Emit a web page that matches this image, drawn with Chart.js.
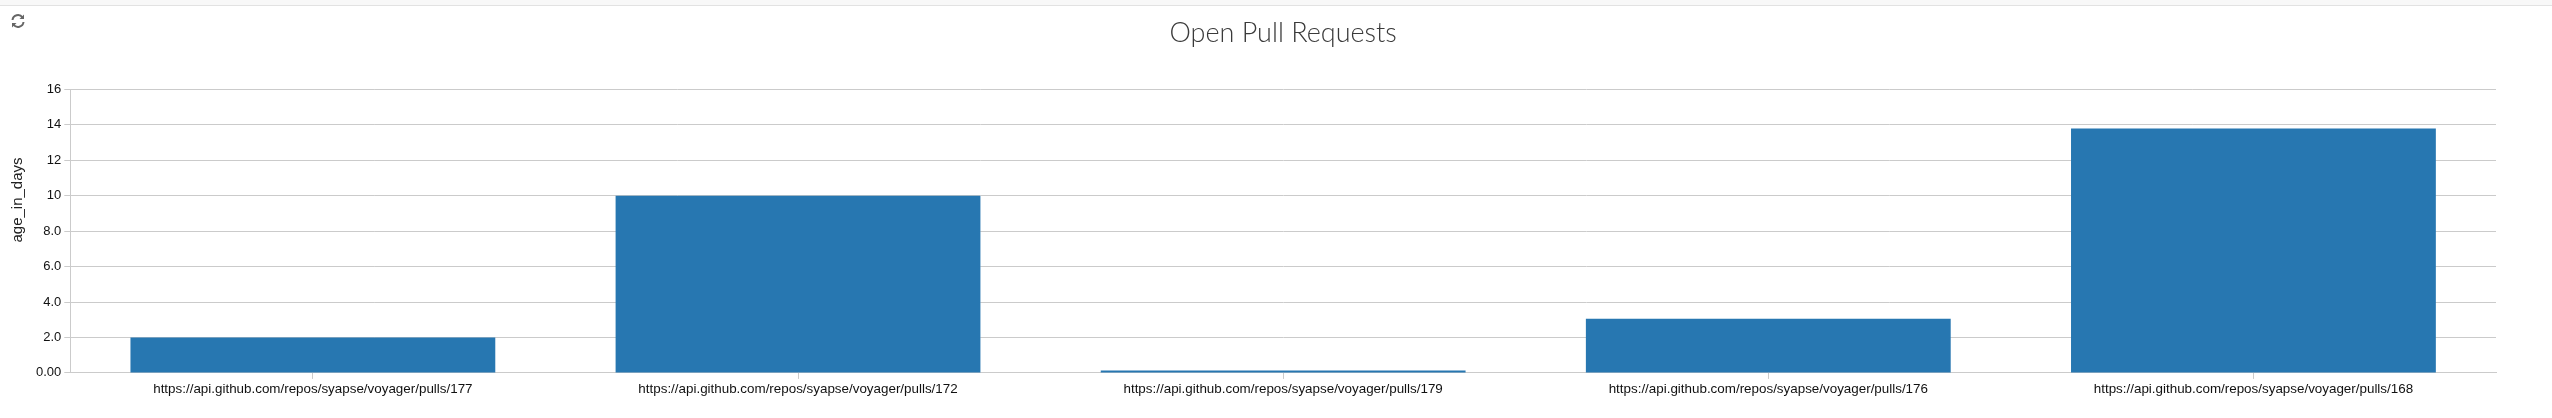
<!DOCTYPE html>
<html>
<head>
    <title>Open Pull Requests</title>
    <script src="https://cdn.jsdelivr.net/npm/chart.js"></script>
    <style>
        html, body {
            margin: 0;
            padding: 0;
            background: #fff;
            overflow: hidden;
        }
        .topbar {
            position: absolute;
            left: 0;
            top: 0;
            width: 100%;
            height: 5px;
            background: #f8f8f8;
            border-bottom: 1px solid #e2e2e2;
        }
        .refresh {
            position: absolute;
            left: 10px;
            top: 13px;
            width: 16px;
            height: 16px;
        }
        canvas {
            position: absolute;
            left: 0;
            top: 0;
        }
    </style>
</head>
<body>
    <canvas id="prChart" width="2552" height="418"></canvas>
    <div class="topbar"></div>
    <svg class="refresh" viewBox="0 0 16 16" fill="none" stroke="#666" stroke-width="2">
        <path d="M2.5 7 A5.5 5.5 0 0 1 12.5 4.5"/>
        <path d="M13.5 9 A5.5 5.5 0 0 1 3.5 11.5"/>
        <path d="M14 1.5 V6 H9.5 Z" fill="#666" stroke="none"/>
        <path d="M2 14.5 V10 H6.5 Z" fill="#666" stroke="none"/>
    </svg>

    <script>
        const categories = [
            "https://api.github.com/repos/syapse/voyager/pulls/177",
            "https://api.github.com/repos/syapse/voyager/pulls/172",
            "https://api.github.com/repos/syapse/voyager/pulls/179",
            "https://api.github.com/repos/syapse/voyager/pulls/176",
            "https://api.github.com/repos/syapse/voyager/pulls/168"
        ];
        const ageInDays = [2.0, 10.0, 0.13, 3.05, 13.8];
        const tickLabels = ["0.00", "2.0", "4.0", "6.0", "8.0", "10", "12", "14", "16"];
        const yAxisName = "age_in_days";

        const gridColor = "#cbcbcb";
        const fontFamily = "'Liberation Sans', Arial, sans-serif";

        // the reference centres the axis name above the middle of the axis,
        // which the built-in scale title can't do
        const yNamePlugin = {
            id: "yName",
            afterDraw(chart) {
                const ctx = chart.ctx;
                ctx.save();
                ctx.translate(18, 200);
                ctx.rotate(-Math.PI / 2);
                ctx.font = "15px " + fontFamily;
                ctx.fillStyle = "#222";
                ctx.textAlign = "center";
                ctx.textBaseline = "middle";
                ctx.fillText(yAxisName, 0, 0);
                ctx.restore();
            }
        };

        new Chart(document.getElementById("prChart"), {
            type: "bar",
            data: {
                labels: categories,
                datasets: [{
                    label: yAxisName,
                    data: ageInDays,
                    backgroundColor: "#2777b1",
                    barPercentage: 0.752,
                    categoryPercentage: 1
                }]
            },
            options: {
                responsive: false,
                animation: false,
                layout: { padding: { top: 11, right: 56, bottom: 19, left: 33 } },
                plugins: {
                    legend: { display: false },
                    tooltip: { enabled: false },
                    title: {
                        display: true,
                        text: "Open Pull Requests",
                        color: "#3a3a3a",
                        fullSize: false,
                        font: { family: "Lato, Roboto, sans-serif", size: 27, weight: "300" },
                        padding: { top: 6, bottom: 40 }
                    }
                },
                scales: {
                    x: {
                        grid: { drawOnChartArea: false, offset: false, color: gridColor, tickLength: 6 },
                        border: { color: gridColor },
                        ticks: { color: "#111", font: { family: fontFamily, size: 13.4 }, maxRotation: 0, padding: 2 }
                    },
                    y: {
                        min: 0,
                        max: 16,
                        afterBuildTicks(axis) {
                            axis.ticks = tickLabels.map(t => ({ value: parseFloat(t) }));
                        },
                        grid: { color: gridColor, tickLength: 6 },
                        border: { color: gridColor },
                        ticks: {
                            color: "#111",
                            font: { family: fontFamily, size: 13 },
                            padding: 3,
                            callback(value, index) { return tickLabels[index]; }
                        }
                    }
                }
            },
            plugins: [yNamePlugin]
        });
    </script>
</body>
</html>
